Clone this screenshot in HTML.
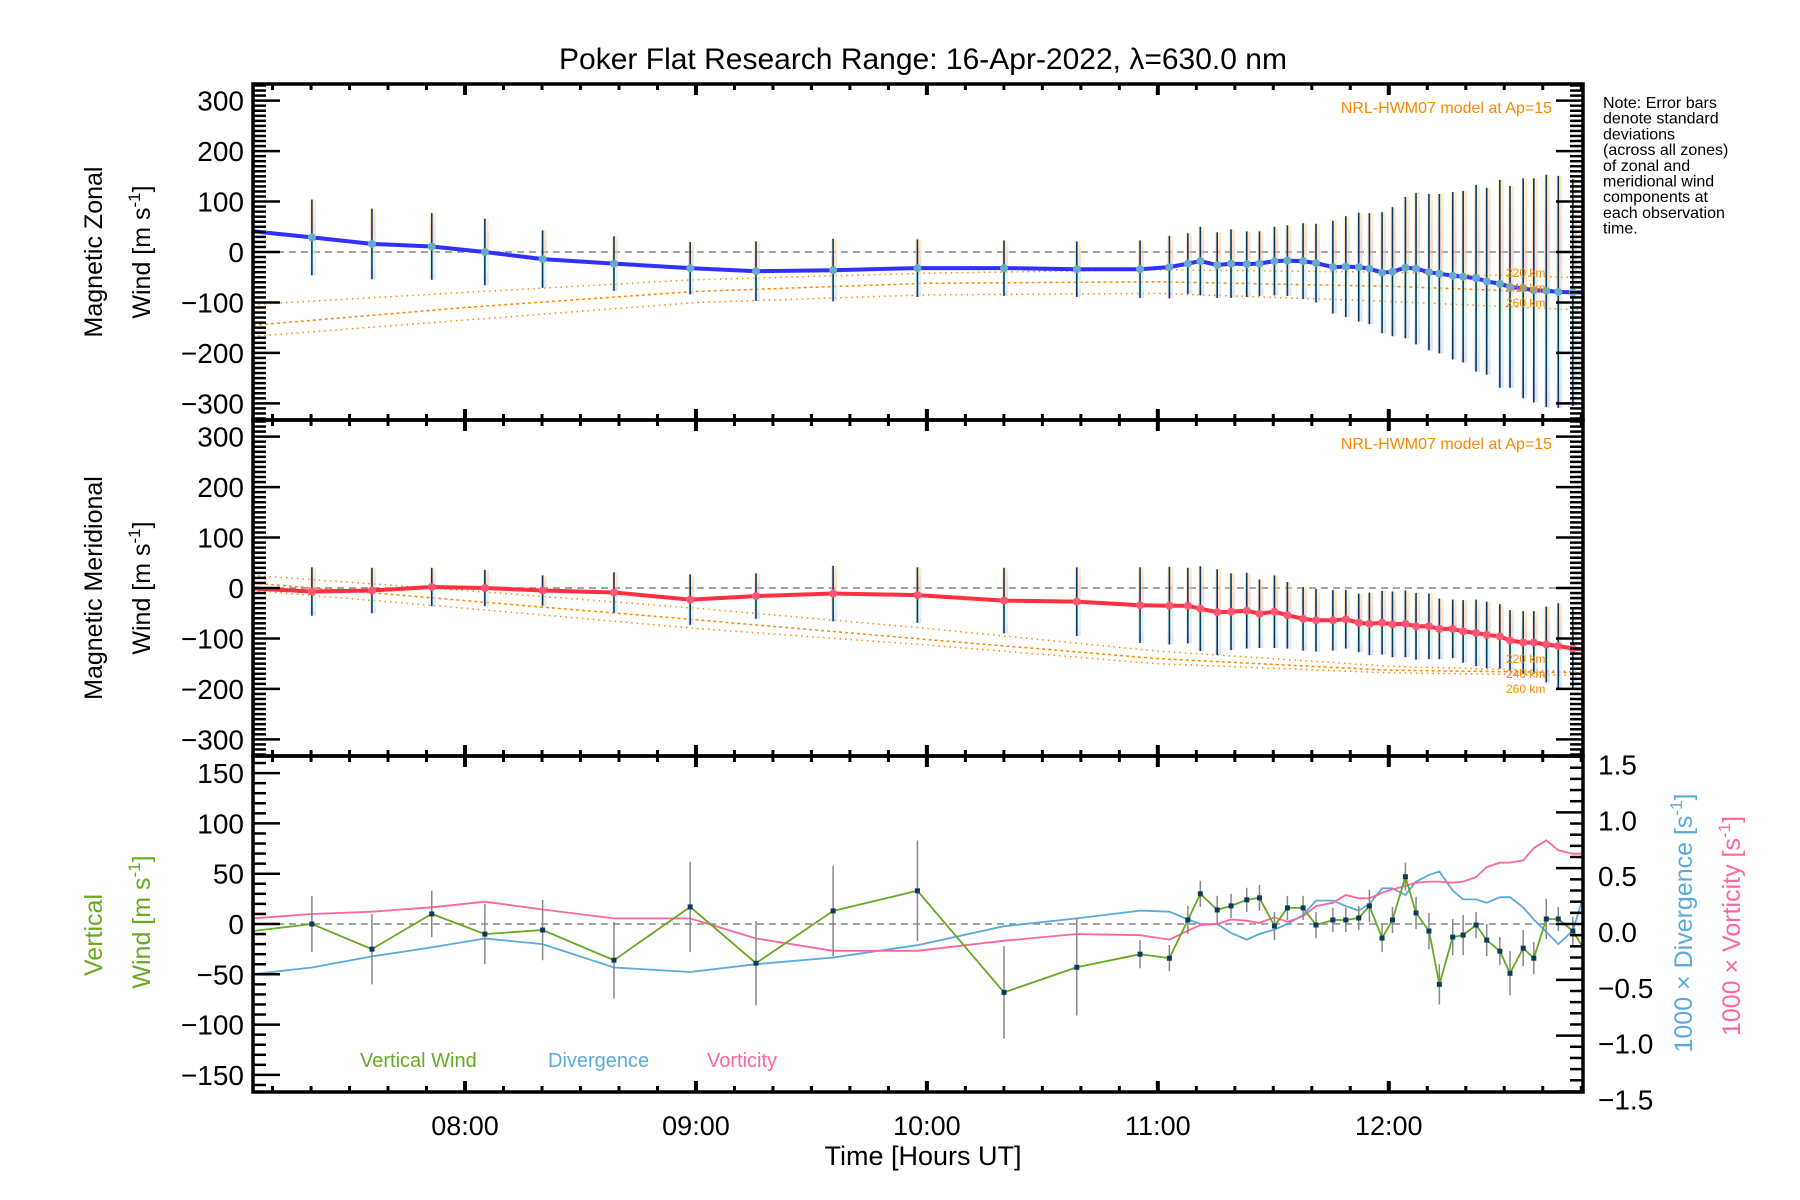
<!DOCTYPE html>
<html><head><meta charset="utf-8">
<style>
html,body{margin:0;padding:0;background:#fff;}
svg{display:block;font-family:"Liberation Sans",sans-serif;}
</style></head>
<body>
<svg id="chart" width="1800" height="1200" viewBox="0 0 1800 1200" xmlns="http://www.w3.org/2000/svg">
<rect x="0" y="0" width="1800" height="1200" fill="#fff"/>
<text x="923" y="69" font-size="30" text-anchor="middle" fill="#000">Poker Flat Research Range: 16-Apr-2022, λ=630.0 nm</text>
<g id="panels"></g>
<text font-size="16" fill="#000">
<tspan x="1603" y="108">Note: Error bars</tspan><tspan x="1603" y="123.7">denote standard</tspan><tspan x="1603" y="139.4">deviations</tspan><tspan x="1603" y="155.1">(across all zones)</tspan><tspan x="1603" y="170.8">of zonal and</tspan><tspan x="1603" y="186.5">meridional wind</tspan><tspan x="1603" y="202.2">components at</tspan><tspan x="1603" y="217.9">each observation</tspan><tspan x="1603" y="233.6">time.</tspan>
</text>
<text font-size="25" text-anchor="middle" transform="translate(102,252) rotate(-90)">Magnetic Zonal</text>
<text font-size="25" text-anchor="middle" transform="translate(150,252) rotate(-90)">Wind [m s<tspan dy="-10" font-size="17">-1</tspan><tspan dy="10">]</tspan></text>
<text font-size="25" text-anchor="middle" transform="translate(102,588) rotate(-90)">Magnetic Meridional</text>
<text font-size="25" text-anchor="middle" transform="translate(150,588) rotate(-90)">Wind [m s<tspan dy="-10" font-size="17">-1</tspan><tspan dy="10">]</tspan></text>
<text font-size="25" fill="#66aa22" text-anchor="middle" transform="translate(102,935) rotate(-90)">Vertical</text>
<text font-size="25" fill="#66aa22" text-anchor="middle" transform="translate(150,922) rotate(-90)">Wind [m s<tspan dy="-10" font-size="17">-1</tspan><tspan dy="10">]</tspan></text>
<text font-size="25" fill="#5aaadd" text-anchor="middle" transform="translate(1692,923) rotate(-90)">1000 × Divergence [s<tspan dy="-10" font-size="17">-1</tspan><tspan dy="10">]</tspan></text>
<text font-size="25" fill="#ff6699" text-anchor="middle" transform="translate(1740,926) rotate(-90)">1000 × Vorticity [s<tspan dy="-10" font-size="17">-1</tspan><tspan dy="10">]</tspan></text>
<text x="923" y="1165" font-size="27" text-anchor="middle">Time [Hours UT]</text>
<text x="360" y="1067" font-size="20" fill="#66aa22">Vertical Wind</text>
<text x="548" y="1067" font-size="20" fill="#5aaadd">Divergence</text>
<text x="707" y="1067" font-size="20" fill="#ff6699">Vorticity</text>
</svg>
<script>
const times = [7.082,7.337,7.597,7.856,8.086,8.336,8.645,8.975,9.26,9.594,9.959,10.334,10.649,10.923,11.05,11.13,11.184,11.257,11.317,11.385,11.44,11.505,11.561,11.629,11.685,11.758,11.814,11.87,11.916,11.971,12.016,12.072,12.118,12.174,12.219,12.277,12.322,12.378,12.424,12.481,12.525,12.582,12.628,12.682,12.734,12.797,12.84];
const zonal = [41,29,16,11,0,-14,-23,-32,-38,-36,-32,-32,-34,-34,-30,-23,-18,-26,-23,-24,-23,-18,-17,-18,-22,-30,-29,-30,-33,-41,-39,-31,-33,-40,-43,-47,-49,-52,-58,-63,-69,-72,-76,-77,-79,-80,-80];
const zonalErr = [0,75,70,66,66,57,54,52,59,62,57,55,55,57,62,60,68,65,68,65,64,68,70,75,78,92,100,108,110,120,128,140,150,155,158,166,170,185,185,206,200,218,222,230,230,225,0];
const merid = [-1,-7,-5,2,0,-5,-9,-23,-16,-11,-14,-25,-27,-34,-35,-35,-41,-48,-47,-45,-51,-47,-54,-61,-64,-64,-62,-69,-71,-69,-72,-71,-76,-76,-81,-81,-86,-89,-93,-96,-104,-108,-108,-112,-115,-120,-122];
const meridErr = [0,48,45,38,36,30,40,50,45,55,55,65,68,75,77,75,84,85,76,75,68,72,66,63,62,60,58,58,62,63,65,66,66,65,60,58,62,66,66,64,60,62,62,75,85,82,0];
const vert = [-7,0,-25,10,-10,-6,-36,17,-39,13,33,-68,-43,-30,-34,4,30,14,18,24,26,-2,16,16,-1,4,4,6,18,-14,4,47,11,-7,-60,-13,-11,-1,-16,-27,-49,-24,-34,5,5,-7,-23];
const vertErr = [0,28,35,23,30,30,38,45,42,45,50,46,48,14,13,14,13,14,12,12,13,14,12,12,13,12,12,12,16,14,13,14,16,18,20,18,20,13,16,14,22,18,16,20,12,14,0];
const divergence = [-0.45,-0.39,-0.29,-0.21,-0.13,-0.18,-0.39,-0.43,-0.36,-0.30,-0.19,-0.02,0.05,0.12,0.11,0.04,0,0,-0.08,-0.14,-0.09,-0.05,0,0.08,0.21,0.21,0.16,0.12,0.18,0.32,0.32,0.26,0.38,0.44,0.47,0.30,0.22,0.22,0.19,0.24,0.24,0.15,0.04,-0.07,-0.18,-0.06,0.23];
const vorticity = [0.05,0.09,0.11,0.15,0.2,0.13,0.05,0.05,-0.13,-0.24,-0.24,-0.15,-0.09,-0.1,-0.14,-0.06,-0.01,0,0.04,0.03,0.01,0.06,0.02,0.07,0.16,0.19,0.26,0.23,0.23,0.28,0.31,0.34,0.37,0.38,0.38,0.37,0.38,0.42,0.51,0.55,0.55,0.57,0.68,0.75,0.66,0.63,0.63];
const modelHours = [7.082,8,9,10,11,12,12.84];
const zonal220 = [-104,-80,-55,-42,-35,-40,-51];
const zonal240 = [-145,-110,-78,-62,-59,-68,-82];
const zonal260 = [-167,-135,-100,-85,-82,-98,-115];
const merid220 = [25,-5,-40,-80,-125,-155,-166];
const merid240 = [10,-25,-63,-102,-140,-163,-168];
const merid260 = [-5,-40,-80,-113,-150,-168,-173];
const xTickHours = [8,9,10,11,12];
const xTickLabels = ["08:00","09:00","10:00","11:00","12:00"];
const windTicks = [-300,-200,-100,0,100,200,300];
const vertTicks = [-150,-100,-50,0,50,100,150];
const rightTicks = [-1.5,-1.0,-0.5,0.0,0.5,1.0,1.5];

const NS='http://www.w3.org/2000/svg';
const root=document.getElementById('panels');
const X0=253, X1=1583, H0=7.082, H1=12.841;
function xs(h){return X0+(h-H0)/(H1-H0)*(X1-X0);}
function mk(tag,attrs,parent){const e=document.createElementNS(NS,tag);for(const k in attrs)e.setAttribute(k,attrs[k]);(parent||root).appendChild(e);return e;}
function scaleY(top,bot,vmin,vmax){return v=>bot-(v-vmin)/(vmax-vmin)*(bot-top);}
function pts(hs,vs,ys){return hs.map((h,i)=>xs(h).toFixed(1)+','+ys(vs[i]).toFixed(1)).join(' ');}

const panels=[
 {top:84,bot:420,ys:scaleY(84,420,-333,333),name:'zonal'},
 {top:420,bot:756,ys:scaleY(420,756,-333,333),name:'meridional'},
 {top:756,bot:1092,ys:scaleY(756,1092,-167,167),name:'vertical'}
];

function drawXTicks(p){
  for(let m=0;m<=6*6;m++){
    const h=7+m/6; if(h<H0||h>H1) continue;
    const x=xs(h); const major=(m%6===0); const L=major?11:6;
    let t=mk('line',{x1:x,x2:x,y1:p.bot,y2:p.bot-L,stroke:'#000','stroke-width':major?4:3});
    
    
    t=mk('line',{x1:x,x2:x,y1:p.top,y2:p.top+L,stroke:'#000','stroke-width':major?4:3});
    
    
  }
}
function drawYTicks(p,vmin,vmax,minorStep,majorStep,ys,side,labels,labelFmt,lx,dy){
  const n=Math.round((vmax-vmin)/minorStep);
  for(let i=0;i<=n;i++){
    const v=vmin+i*minorStep; const y=ys(v); if(y<p.top-0.5||y>p.bot+0.5) continue;
    const major=Math.abs(v/majorStep-Math.round(v/majorStep))<1e-6; const L=major?27:13;
    const x=side==='left'?X0:X1; const d=side==='left'?1:-1;
    const t=mk('line',{x1:x,x2:x+d*L,y1:y,y2:y,stroke:'#000','stroke-width':2.5});
    
    
  }
  if(labels){labels.forEach(v=>{
    const t=mk('text',{x:lx,y:ys(v)+(dy||10),'font-size':28,'text-anchor':side==='left'?'end':'start',fill:'#000'});
    t.textContent=labelFmt(v);
    
    
  });}
}
function fmtInt(v){return v<0?'−'+Math.abs(v):String(v);}
function fmtDec(v){return (v<0?'−':'')+Math.abs(v).toFixed(1);}

const defs=mk('defs',{});
panels.forEach((p,i)=>{const c=mk('clipPath',{id:'clip'+i},defs);mk('rect',{x:X0,y:p.top,width:X1-X0,height:p.bot-p.top},c);});

function drawModel(p,i,series){
  series.forEach((s,k)=>{
    const l=mk('polyline',{points:pts(modelHours,s,p.ys),fill:'none',stroke:'#ff8800','stroke-width':1.5,'stroke-dasharray':k===1?'3,3':'1.5,4','clip-path':'url(#clip'+i+')'});
    
    
  });
}
function zeroLine(p,i){
  const z=mk('line',{x1:X0,x2:X1,y1:p.ys(0),y2:p.ys(0),stroke:'#888','stroke-width':1.5,'stroke-dasharray':'7,5'});
  
  
}
function windPanel(p,i,vals,errs,lineColor,markColor,models,modelLabelY){
  zeroLine(p,i);
  drawModel(p,i,models);
  vals.forEach((v,k)=>{
    if(!errs[k]) return;
    const x=xs(times[k]); const y1=p.ys(v+errs[k]), y2=p.ys(v-errs[k]);
    const b=mk('rect',{x:x-2,y:y1,width:6,height:y2-y1,fill:'url(#pastel)',opacity:0.55,'stroke-dasharray':'4,3','clip-path':'url(#clip'+i+')'});
    
    
    const e=mk('line',{x1:x,x2:x,y1:y1,y2:y2,stroke:'#0a3a5e','stroke-width':1.6,'clip-path':'url(#clip'+i+')'});
    
    
  });
  const l=mk('polyline',{points:pts(times,vals,p.ys),fill:'none',stroke:lineColor,'stroke-width':4,'clip-path':'url(#clip'+i+')'});
  
  
  vals.forEach((v,k)=>{
    if(!errs[k]) return;
    const c=mk('circle',{cx:xs(times[k]),cy:p.ys(v),r:4,fill:markColor});
    
    
  });
  const t=mk('text',{x:1552,y:p.top+29,'font-size':16,fill:'#ff8800','text-anchor':'end'});
  t.textContent='NRL-HWM07 model at Ap=15';
  
  
  ['220 km','240 km','260 km'].forEach((s,k)=>{
    const q=mk('text',{x:1506,y:modelLabelY+k*15,'font-size':12,fill:'#ff8800'});
    q.textContent=s;
    
    
  });
}
const grad=mk('linearGradient',{id:'pastel',x1:0,y1:0,x2:0,y2:1},defs);
[['0','#fbe6a0'],['0.35','#f9b9a8'],['0.6','#c8f0cc'],['0.8','#c8ecf4'],['1','#ccc8f0']].forEach(s=>mk('stop',{offset:s[0],'stop-color':s[1]},grad));

windPanel(panels[0],0,zonal,zonalErr,'#3030ff','#66aacc',[zonal220,zonal240,zonal260],277);
windPanel(panels[1],1,merid,meridErr,'#ff3040','#ff5577',[merid220,merid240,merid260],663);

const pb=panels[2];
const yr=scaleY(756,1092,-1.505,1.505);
zeroLine(pb,2);
let ldiv=mk('polyline',{points:pts(times,divergence,yr),fill:'none',stroke:'#5aaadd','stroke-width':1.8,'clip-path':'url(#clip2)'});


let lvor=mk('polyline',{points:pts(times,vorticity,yr),fill:'none',stroke:'#ff6699','stroke-width':1.8,'clip-path':'url(#clip2)'});


vert.forEach((v,k)=>{
  if(!vertErr[k]) return;
  const x=xs(times[k]);
  const e=mk('line',{x1:x,x2:x,y1:pb.ys(v+vertErr[k]),y2:pb.ys(v-vertErr[k]),stroke:'#888','stroke-width':1.5});
  
  
});
let lv=mk('polyline',{points:pts(times,vert,pb.ys),fill:'none',stroke:'#66aa22','stroke-width':1.8,'clip-path':'url(#clip2)'});


vert.forEach((v,k)=>{
  if(!vertErr[k]) return;
  const r=mk('rect',{x:xs(times[k])-2.5,y:pb.ys(v)-2.5,width:5,height:5,fill:'#0a3a5e'});
  
  
});

panels.forEach((p,i)=>{
  const f=mk('rect',{x:X0,y:p.top,width:X1-X0,height:p.bot-p.top,fill:'none',stroke:'#000','stroke-width':3.5});
  
  
  drawXTicks(p);
});
drawYTicks(panels[0],-330,330,10,100,panels[0].ys,'left',windTicks,fmtInt,244);
drawYTicks(panels[0],-330,330,10,100,panels[0].ys,'right',null);
drawYTicks(panels[1],-330,330,10,100,panels[1].ys,'left',windTicks,fmtInt,244);
drawYTicks(panels[1],-330,330,10,100,panels[1].ys,'right',null);
drawYTicks(pb,-160,160,10,50,pb.ys,'left',vertTicks,fmtInt,244);
drawYTicks(pb,-1.5,1.5,0.1,0.5,yr,'right',rightTicks,fmtDec,1598,18);
xTickHours.forEach((h,k)=>{
  const t=mk('text',{x:xs(h),y:1135,'font-size':27,'text-anchor':'middle'});
  t.textContent=xTickLabels[k];
  
  
});
</script>
</body></html>
